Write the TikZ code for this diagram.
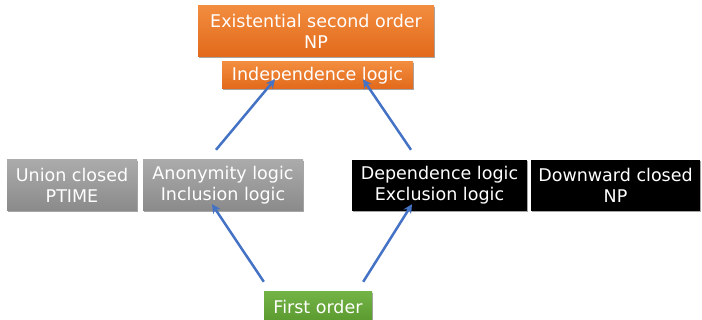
\documentclass[tikz,border=0pt]{standalone}
\usepackage{fontspec}
\setmainfont{DejaVu Sans}
\usetikzlibrary{shadows,arrows.meta,calc}
\definecolor{arrowblue}{HTML}{4472C4}
\definecolor{orTop}{HTML}{F28C3E}
\definecolor{orBot}{HTML}{E2691B}
\definecolor{grTop}{HTML}{ABABAB}
\definecolor{grBot}{HTML}{8A8A8A}
\definecolor{gnTop}{HTML}{73B346}
\definecolor{gnBot}{HTML}{5A9A2F}
\tikzset{
  box/.style={rectangle, inner sep=0pt, align=center, text=white,
    font=\fontsize{17.5}{21}\selectfont,
    drop shadow={shadow xshift=0.8pt, shadow yshift=-1.2pt, opacity=0.35, fill=black}},
  orangebox/.style={box, top color=orTop, bottom color=orBot},
  graybox/.style={box, top color=grTop, bottom color=grBot},
  blackbox/.style={box, fill=black},
  greenbox/.style={box, top color=gnTop, bottom color=gnBot},
  conn/.style={arrowblue, line width=2.5pt, -{Stealth[length=9pt,width=9pt]}}
}
\begin{document}
\begin{tikzpicture}[x=1pt,y=-1pt]
\useasboundingbox (0,0) rectangle (702,320);
\node[orangebox, minimum width=236pt, minimum height=51pt] (eso) at (316,31.5) {Existential second order\\NP};
\node[orangebox, minimum width=191pt, minimum height=27pt] (ind) at (317.5,75.5) {Independence logic};
\node[graybox, minimum width=130pt, minimum height=51pt] (union) at (72,185.5) {Union closed\\PTIME};
\node[graybox, minimum width=160pt, minimum height=51pt] (anon) at (223,185.5) {Anonymity logic\\Inclusion logic};
\node[blackbox, minimum width=175pt, minimum height=51pt] (dep) at (439.5,185.5) {Dependence logic\\Exclusion logic};
\node[blackbox, minimum width=169pt, minimum height=51pt] (down) at (615.5,185.5) {Downward closed\\NP};
\node[greenbox, minimum width=108pt, minimum height=29pt] (fo) at (318,306.5) {First order};
% arrow endpoints
\coordinate (a1s) at ($(anon.north)+(-7,-10)$);
\coordinate (a1e) at ($(ind.south)+(-42.5,-10)$);
\coordinate (a2s) at ($(dep.north)+(-28.5,-10)$);
\coordinate (a2e) at ($(ind.south)+(45.5,-10)$);
\coordinate (a3s) at ($(fo.north west)+(0,-10)$);
\coordinate (a3e) at ($(anon.south)+(-11,-7)$);
\coordinate (a4s) at ($(fo.north east)+(-9,-10)$);
\coordinate (a4e) at ($(dep.south)+(-27.5,-7)$);
\draw[conn] (a1s) -- (a1e);
\draw[conn] (a2s) -- (a2e);
\draw[conn] (a3s) -- (a3e);
\draw[conn] (a4s) -- (a4e);
\end{tikzpicture}
\end{document}
